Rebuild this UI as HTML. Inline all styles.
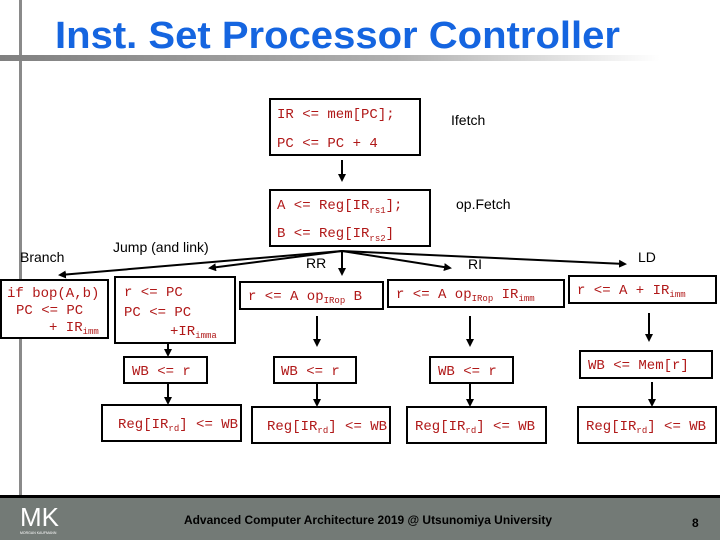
<!DOCTYPE html>
<html><head><meta charset="utf-8"><style>
html,body{margin:0;padding:0;background:#fff;width:720px;height:540px;overflow:hidden}
svg{display:block}
.c{font-family:"Liberation Mono",monospace;font-size:14px;fill:#b01818}
.s{font-size:9px}
.l{font-family:"Liberation Sans",sans-serif;font-size:14px;fill:#000}
.b{fill:#fff;stroke:#000;stroke-width:2}
.a{stroke:#000;stroke-width:2;fill:none}
</style></head><body>
<svg width="720" height="540" viewBox="0 0 720 540" xmlns="http://www.w3.org/2000/svg">
<defs>
<linearGradient id="g" x1="0" x2="1"><stop offset="0" stop-color="#808080"/><stop offset="0.6" stop-color="#b0b0b0"/><stop offset="1" stop-color="#fff"/></linearGradient>
<marker id="m" markerWidth="8" markerHeight="8" refX="6" refY="4" orient="auto" markerUnits="userSpaceOnUse"><path d="M0,0 L8,4 L0,8 z" fill="#000"/></marker>
</defs>
<rect x="19" y="0" width="3" height="540" fill="#8a8a8a"/>
<rect x="0" y="55" width="660" height="6" fill="url(#g)"/>
<text x="55" y="48" font-family="Liberation Sans,sans-serif" font-weight="bold" font-size="38" fill="#1565e0" textLength="565" lengthAdjust="spacingAndGlyphs">Inst. Set Processor Controller</text>

<rect class="b" x="270" y="99" width="150" height="56"/>
<text class="c" x="277" y="118">IR &lt;= mem[PC];</text>
<text class="c" x="277" y="147">PC &lt;= PC + 4</text>
<text class="l" x="451" y="125">Ifetch</text>
<line class="a" x1="342" y1="160" x2="342" y2="180" marker-end="url(#m)"/>
<rect class="b" x="270" y="190" width="160" height="56"/>
<text class="c" x="277" y="209">A &lt;= Reg[IR<tspan class="s" dy="4">rs1</tspan><tspan dy="-4">];</tspan></text>
<text class="c" x="277" y="237">B &lt;= Reg[IR<tspan class="s" dy="4">rs2</tspan><tspan dy="-4">]</tspan></text>
<text class="l" x="456" y="209">op.Fetch</text>

<text class="l" x="20" y="262">Branch</text>
<text class="l" x="113" y="252">Jump (and link)</text>
<text class="l" x="306" y="268">RR</text>
<text class="l" x="468" y="269">RI</text>
<text class="l" x="638" y="262">LD</text>

<line class="a" x1="342" y1="251" x2="60" y2="275" marker-end="url(#m)"/>
<line class="a" x1="342" y1="251" x2="210" y2="268" marker-end="url(#m)"/>
<line class="a" x1="342" y1="251" x2="342" y2="274" marker-end="url(#m)"/>
<line class="a" x1="342" y1="251" x2="450" y2="268" marker-end="url(#m)"/>
<line class="a" x1="342" y1="251" x2="625" y2="264" marker-end="url(#m)"/>

<rect class="b" x="1" y="280" width="107" height="58"/>
<text class="c" x="7" y="297">if bop(A,b)</text>
<text class="c" x="16" y="314">PC &lt;= PC</text>
<text class="c" x="49" y="331">+ IR<tspan class="s" dy="3">imm</tspan></text>
<rect class="b" x="115" y="277" width="120" height="66"/>
<text class="c" x="124" y="296">r &lt;= PC</text>
<text class="c" x="124" y="316">PC &lt;= PC</text>
<text class="c" x="170" y="335">+IR<tspan class="s" dy="3">imma</tspan></text>
<rect class="b" x="240" y="282" width="143" height="27"/>
<text class="c" x="248" y="300">r &lt;= A op<tspan class="s" dy="3">IRop</tspan><tspan dy="-3"> B</tspan></text>
<rect class="b" x="388" y="280" width="176" height="27"/>
<text class="c" x="396" y="298">r &lt;= A op<tspan class="s" dy="3">IRop</tspan><tspan dy="-3"> IR</tspan><tspan class="s" dy="3">imm</tspan></text>
<rect class="b" x="569" y="276" width="147" height="27"/>
<text class="c" x="577" y="294">r &lt;= A + IR<tspan class="s" dy="3">imm</tspan></text>

<line class="a" x1="168" y1="343" x2="168" y2="355" marker-end="url(#m)"/>
<line class="a" x1="317" y1="316" x2="317" y2="345" marker-end="url(#m)"/>
<line class="a" x1="470" y1="316" x2="470" y2="345" marker-end="url(#m)"/>
<line class="a" x1="649" y1="313" x2="649" y2="340" marker-end="url(#m)"/>

<rect class="b" x="124" y="357" width="83" height="26"/>
<text class="c" x="132" y="375">WB &lt;= r</text>
<rect class="b" x="274" y="357" width="82" height="26"/>
<text class="c" x="281" y="375">WB &lt;= r</text>
<rect class="b" x="430" y="357" width="83" height="26"/>
<text class="c" x="438" y="375">WB &lt;= r</text>
<rect class="b" x="580" y="351" width="132" height="27"/>
<text class="c" x="588" y="369">WB &lt;= Mem[r]</text>

<line class="a" x1="168" y1="383" x2="168" y2="403" marker-end="url(#m)"/>
<line class="a" x1="317" y1="383" x2="317" y2="405" marker-end="url(#m)"/>
<line class="a" x1="470" y1="383" x2="470" y2="405" marker-end="url(#m)"/>
<line class="a" x1="652" y1="382" x2="652" y2="405" marker-end="url(#m)"/>

<rect class="b" x="102" y="405" width="139" height="36"/>
<text class="c" x="118" y="428">Reg[IR<tspan class="s" dy="3">rd</tspan><tspan dy="-3">] &lt;= WB</tspan></text>
<rect class="b" x="252" y="407" width="138" height="36"/>
<text class="c" x="267" y="430">Reg[IR<tspan class="s" dy="3">rd</tspan><tspan dy="-3">] &lt;= WB</tspan></text>
<rect class="b" x="407" y="407" width="139" height="36"/>
<text class="c" x="415" y="430">Reg[IR<tspan class="s" dy="3">rd</tspan><tspan dy="-3">] &lt;= WB</tspan></text>
<rect class="b" x="578" y="407" width="138" height="36"/>
<text class="c" x="586" y="430">Reg[IR<tspan class="s" dy="3">rd</tspan><tspan dy="-3">] &lt;= WB</tspan></text>

<rect x="0" y="495" width="720" height="45" fill="#737a76"/>
<rect x="0" y="495" width="720" height="3" fill="#000"/>
<text x="20" y="526" font-family="Liberation Sans,sans-serif" font-size="26" fill="#fff">MK</text>
<text x="20" y="534" font-family="Liberation Sans,sans-serif" font-size="3.5" fill="#fff">MORGAN KAUFMANN</text>
<text x="184" y="524" font-family="Liberation Sans,sans-serif" font-size="12" font-weight="bold" fill="#000" textLength="368" lengthAdjust="spacingAndGlyphs">Advanced Computer Architecture 2019 @ Utsunomiya University</text>
<text x="692" y="527" font-family="Liberation Sans,sans-serif" font-size="12" font-weight="bold" fill="#000">8</text>
</svg>
</body></html>
